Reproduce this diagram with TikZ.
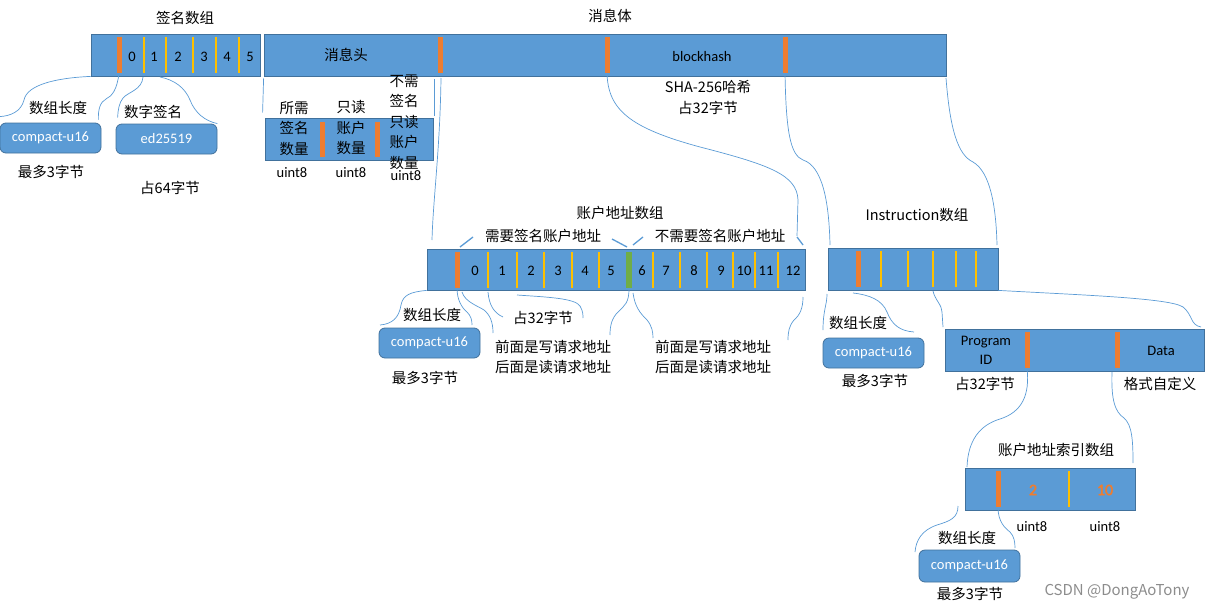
\documentclass[tikz,border=0pt]{standalone}
\usepackage{fontspec}
\setmainfont{Noto Sans CJK SC}
\newfontfamily\latin{Carlito}
\newfontfamily\latinheavy[FakeBold=2.5]{Carlito}
\usetikzlibrary{positioning}
\definecolor{boxblue}{HTML}{5B9BD5}
\definecolor{boxline}{HTML}{41719C}
\definecolor{barorange}{HTML}{ED7D31}
\definecolor{baryellow}{HTML}{FFC000}
\definecolor{bargreen}{HTML}{70AD47}
\definecolor{linkblue}{HTML}{5B9BD5}

\begin{document}
\begin{tikzpicture}[x=1pt, y=-1pt,
			txt/.style={font=\fontsize{14.5}{20.5}\selectfont, inner sep=0, align=center},
			lat/.style={font=\latin\fontsize{14.5}{19}\selectfont, inner sep=0, align=center},
			arr/.style={draw=boxline, fill=boxblue, line width=0.8pt, inner sep=0},
			lenbox/.style={arr, rounded corners=6pt, minimum width=101pt, minimum height=30pt, text=white, font=\latin\fontsize{14.5}{18}\selectfont},
			obar/.style={fill=barorange, inner sep=0, minimum width=5pt, minimum height=36pt},
			gbar/.style={obar, fill=bargreen, minimum width=6pt},
			ysep/.style={draw=baryellow, line width=1.6pt},
			link/.style={draw=linkblue, line width=0.7pt},
			slashline/.style={draw=linkblue, line width=1.3pt},
			idxnum/.style={lat, text=barorange, font=\latinheavy\fontsize{16}{19}\selectfont}]
			\useasboundingbox (0,0) rectangle (1206,610);

			% signature array
			\node[txt] (sigtitle) at (185,18) {签名数组};
			\node[arr, minimum width=169pt, minimum height=42pt] (sig) at (175.5,55) {};
			\node[obar] (sb) at (119,55) {};
			\foreach \x in {144,166,193,216,239} \draw[ysep] (\x,37) -- (\x,73);
			\foreach \n/\x in {0/132,1/154,2/178,3/204,4/227,5/250} \node[lat] (sn\n) at (\x,57) {\n};
			\node[txt] (len1lbl) at (58,108) {数组长度};
			\node[lenbox] (len1) at (50.5,138) {compact-u16};
			\node[txt] (len1note) at (51,172) {最多3字节};
			\node[txt] (sigslbl) at (153,112) {数字签名};
			\node[lenbox] (sigs) at (166.5,139) {ed25519};
			\node[txt] (sigsnote) at (170,188) {占64字节};
			\draw[link] (sig.south west) .. controls (55,78) and (27,85) .. (24,100) .. controls (21,112) and (10,116) .. ([yshift=6pt]len1.north west);
			\draw[link] (sb.south) .. controls (117,90) and (112,96) .. (106,99) .. controls (100,102) and (98,110) .. ([xshift=-3pt,yshift=3pt]len1.north east);
			\draw[link] (143,77) .. controls (142,90) and (128,92) .. (123,98) .. controls (119,103) and (118,110) .. ([xshift=2pt,yshift=6pt]sigs.north west);
			\draw[link] (160,77) .. controls (175,80) and (185,88) .. (190,100) .. controls (195,113) and (205,121) .. (sigs.north east);

			% message body
			\node[txt] (msgtitle) at (610,16) {消息体};
			\node[arr, minimum width=682pt, minimum height=42pt] (msg) at (605,55) {};
			\node[obar] (mb1) at (440,55) {};
			\node[obar] (mb2) at (607,55) {};
			\node[obar] (mb3) at (785,55) {};
			\node[txt] (hdrlbl) at (346,55) {消息头};
			\node[lat] (bhash) at (702,57) {blockhash};
			\node[txt] (bhashnote) at (708,97.5) {SHA-256哈希\\占32字节};

			% message header
			\node[arr, minimum width=168pt, minimum height=42pt] (hdr) at (349,139) {};
			\node[obar, minimum height=35pt] (hb1) at (322,139) {};
			\node[obar, minimum height=35pt] (hb2) at (377,139) {};
			\node[txt] (hdr1) at (294,128.5) {所需\\签名\\数量};
			\node[txt] (hdr2) at (351,128) {只读\\账户\\数量};
			\node[txt] (hdr3) at (404,122) {不需\\签名\\只读\\账户\\数量};
			\node[lat] (u1) at (292,173) {uint8};
			\node[lat] (u2) at (351,173) {uint8};
			\node[lat] (u3) at (406,176) {uint8};
			\draw[link] ([yshift=-2pt]msg.south west) -- ([xshift=-2pt,yshift=5pt]hdr.north west);
			\draw[link] (434,79) -- (434,116);

			% account address array
			\node[txt] (accttitle) at (620,213) {账户地址数组};
			\node[txt] (signlbl) at (543,236) {需要签名账户地址};
			\node[txt] (nosignlbl) at (720,236) {不需要签名账户地址};
			\node[arr, minimum width=378pt, minimum height=41pt] (acct) at (616,269.5) {};
			\node[obar] (ab) at (457,270) {};
			\node[gbar] (gb) at (629,270) {};
			\foreach \x in {488,517,544,572,599,653,680,707,733,755,778} \draw[ysep] (\x,252) -- (\x,288);
			\foreach \n/\x in {0/475,1/502,2/531,3/558,4/585,5/611,6/642,7/666,8/694,9/721,10/744,11/766,12/793} \node[lat] (an\n) at (\x,271) {\n};
			\draw[link] (441,78) .. controls (440,150) and (433,200) .. (432,240);
			\draw[slashline] (460,247) -- (473,237);
			\draw[slashline] (612,239) -- (627,247);
			\draw[slashline] (633,245) -- (643,237);
			\draw[link] (mb2.south) .. controls (608,110) and (630,128) .. (700,147) .. controls (770,165) and (797,175) .. (798,200) -- (797,236);
			\draw[slashline] (797,237) -- (803,245);
			\node[txt] (len2lbl) at (432,315) {数组长度};
			\node[lenbox] (len2) at (429.5,343) {compact-u16};
			\node[txt] (len2note) at (425,378) {最多3字节};
			\node[txt] (addrnote) at (543,318) {占32字节};
			\node[txt] (rw1) at (553,357) {前面是写请求地址\\后面是读请求地址};
			\node[txt] (rw2) at (713,357) {前面是写请求地址\\后面是读请求地址};
			\draw[link] (acct.south west) .. controls (410,292) and (403,295) .. (401,305) .. controls (399,318) and (392,324) .. (380,325);
			\draw[link] (ab.south) .. controls (457,300) and (462,308) .. (467,312) .. controls (471,316) and (472,320) .. (472,325);
			\draw[link] (462,292) .. controls (465,302) and (478,306) .. (484,310) .. controls (490,315) and (493,322) .. (493,333);
			\draw[link] (488,292) .. controls (489,305) and (494,313) .. (503,317);
			\draw[link] (517,295) .. controls (545,297) and (575,298) .. (580,306) .. controls (583,311) and (583,315) .. (583,318);
			\draw[link] (gb.south) .. controls (629,303) and (625,305) .. (618,312) .. controls (612,318) and (610,325) .. (610,335);
			\draw[link] (633,293) .. controls (635,307) and (640,313) .. (647,320) .. controls (652,326) and (653,332) .. (653,338);
			\draw[link] (803,297) .. controls (803,308) and (800,315) .. (794,320) .. controls (789,326) and (788,332) .. (788,340);

			% instruction array
			\node[txt] (institle) at (917,215) {Instruction数组};
			\node[arr, minimum width=170pt, minimum height=42pt] (ins) at (913,269) {};
			\node[obar] (ib) at (858,269) {};
			\foreach \x in {881,908,933,956,976} \draw[ysep] (\x,251) -- (\x,287);
			\draw[link] (mb3.south) .. controls (786,130) and (790,155) .. (803,160) .. controls (822,166) and (829,200) .. (830,245);
			\draw[link] (946,78) .. controls (950,130) and (958,155) .. (973,162) .. controls (990,172) and (996,205) .. (997,245);
			\node[txt] (len3lbl) at (858,323) {数组长度};
			\node[lenbox] (len3) at (873.5,353) {compact-u16};
			\node[txt] (len3note) at (875,381) {最多3字节};
			\draw[link] (827,294) .. controls (827,305) and (823,310) .. (823,330);
			\draw[link] (853,293) .. controls (870,295) and (882,300) .. (887,312) .. controls (892,325) and (900,331) .. (914,332);
			\draw[link] (933,291) .. controls (935,300) and (942,305) .. (942,312) -- (943,327);
			\draw[link] (ins.south east) .. controls (1080,295) and (1170,298) .. (1183,307) .. controls (1193,315) and (1190,325) .. (1201,327);

			% one instruction
			\node[arr, minimum width=259pt, minimum height=42pt] (prog) at (1074.5,350) {};
			\node[obar] (pb1) at (1027,350) {};
			\node[obar] (pb2) at (1117,350) {};
			\node[lat] (progid) at (986,350) {Program\\ID};
			\node[lat] (data) at (1161,351) {Data};
			\node[txt] (prognote) at (985,384) {占32字节};
			\node[txt] (datanote) at (1160,384) {格式自定义};
			\draw[link] (pb1.south) .. controls (1030,395) and (1022,412) .. (1000,419) .. controls (980,425) and (968,440) .. (967,467);
			\draw[link] (1112,372) .. controls (1111,400) and (1115,412) .. (1124,418) .. controls (1132,425) and (1133,440) .. (1133,463);

			% account index array
			\node[txt] (idxtitle) at (1056,450) {账户地址索引数组};
			\node[arr, minimum width=170pt, minimum height=42pt] (idx) at (1050,489) {};
			\node[obar] (idb) at (998,489) {};
			\draw[ysep] (1069,471) -- (1069,507);
			\node[idxnum] (i1) at (1033,490) {2};
			\node[idxnum] (i2) at (1105,490) {10};
			\node[lat] (u4) at (1032,527) {uint8};
			\node[lat] (u5) at (1105,527) {uint8};
			\node[txt] (len4lbl) at (967,538) {数组长度};
			\node[lenbox, minimum height=32pt] (len4) at (969.5,566) {compact-u16};
			\node[txt] (len4note) at (970,594) {最多3字节};
			\draw[link] (958,506) .. controls (958,518) and (950,521) .. (937,525) .. controls (922,530) and (916,540) .. (915,552);
			\draw[link] (idb.south) .. controls (998,522) and (1005,528) .. (1010,532) .. controls (1014,536) and (1015,542) .. (1015,548);

			\node[txt, text=black!45, font=\fontsize{15}{18}\selectfont] (wm) at (1117,592) {CSDN @DongAoTony};
	\end{tikzpicture}
\end{document}
